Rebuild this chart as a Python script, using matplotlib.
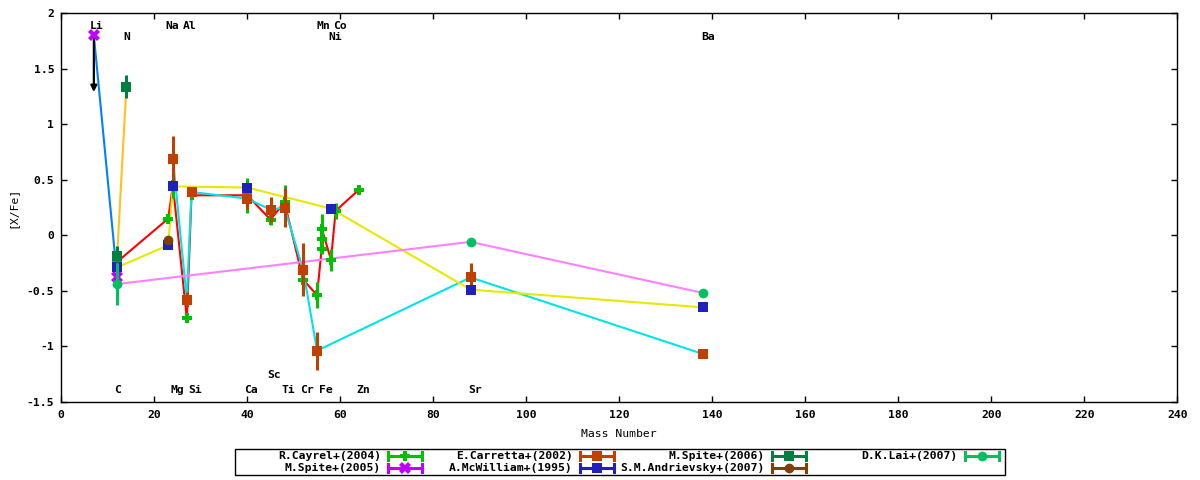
import matplotlib
matplotlib.use('Agg')
import matplotlib.pyplot as plt
from matplotlib.patches import Rectangle
from matplotlib.ticker import FuncFormatter, MultipleLocator

plt.rcParams['font.family'] = ['DejaVu Sans Mono']
plt.rcParams['font.weight'] = 'bold'
plt.rcParams['font.size'] = 8.2
plt.rcParams['axes.unicode_minus'] = False

# ---------------- data ----------------
cayrel_mass = [12, 23, 24, 27, 28, 40, 45, 48, 52, 55, 56, 56, 56, 58, 59, 64]
cayrel_val = [-0.24, 0.15, 0.45, -0.75, 0.36, 0.36, 0.14, 0.30, -0.40, -0.54,
              -0.12, -0.03, 0.06, -0.22, 0.22, 0.41]
cayrel_err = [0.05, 0.0, 0.11, 0.0, 0.03, 0.16, 0.05, 0.15, 0.13, 0.12,
              0.05, 0.12, 0.13, 0.10, 0.07, 0.0]

spite05_mass = [7, 12]
spite05_val = [1.80, -0.38]
spite05_err = [0.0, 0.0]

carretta_mass = [24, 27, 28, 40, 45, 48, 52, 55, 88, 138]
carretta_val = [0.69, -0.58, 0.39, 0.33, 0.23, 0.25, -0.31, -1.04, -0.38, -1.07]
carretta_err = [0.20, 0.07, 0.0, 0.09, 0.115, 0.18, 0.24, 0.17, 0.13, 0.0]

mcwilliam_mass = [12, 23, 24, 40, 58, 88, 138]
mcwilliam_val = [-0.29, -0.09, 0.44, 0.43, 0.24, -0.49, -0.65]
mcwilliam_err = [0.0, 0.0, 0.0, 0.0, 0.0, 0.0, 0.0]

spite06_mass = [12, 14]
spite06_val = [-0.19, 1.34]
spite06_err = [0.09, 0.10]

andrievsky_mass = [23]
andrievsky_val = [-0.04]
andrievsky_err = [0.0]

lai_mass = [12, 88, 138]
lai_val = [-0.44, -0.06, -0.52]
lai_err = [0.19, 0.0, 0.0]

# Li upper limit arrow (from value down to tip)
li_arrow_x = 7
li_arrow_from = 1.80
li_arrow_to = 1.29

top_labels = ['Li', 'N', 'Na', 'Al', 'Mn', 'Co', 'Ni', 'Ba']
top_label_x = [7.6, 14.1, 23.9, 27.7, 56.3, 60.0, 58.9, 139.2]
top_label_y = [1.887, 1.79, 1.887, 1.887, 1.887, 1.887, 1.79, 1.79]

bottom_labels = ['C', 'Mg', 'Si', 'Ca', 'Sc', 'Ti', 'Cr', 'Fe', 'Zn', 'Sr']
bottom_label_x = [12.2, 24.9, 28.75, 40.9, 45.8, 48.9, 52.9, 57.0, 64.9, 89.0]
bottom_label_y = [-1.395, -1.395, -1.395, -1.395, -1.26, -1.395, -1.395, -1.395, -1.395, -1.395]

series = [
    dict(label='R.Cayrel+(2004)', m=cayrel_mass, v=cayrel_val, e=cayrel_err,
         color='#00c000', line='#ff0000', marker='P', ms=7.5),
    dict(label='M.Spite+(2005)', m=spite05_mass, v=spite05_val, e=spite05_err,
         color='#c000ff', line='#0080ff', marker='X', ms=8),
    dict(label='E.Carretta+(2002)', m=carretta_mass, v=carretta_val, e=carretta_err,
         color='#c04000', line='#00e4e8', marker='s', ms=7.2),
    dict(label='A.McWilliam+(1995)', m=mcwilliam_mass, v=mcwilliam_val, e=mcwilliam_err,
         color='#2020c0', line='#e8e800', marker='s', ms=7.2),
    dict(label='M.Spite+(2006)', m=spite06_mass, v=spite06_val, e=spite06_err,
         color='#008040', line='#ffc020', marker='s', ms=7.2),
    dict(label='S.M.Andrievsky+(2007)', m=andrievsky_mass, v=andrievsky_val, e=andrievsky_err,
         color='#804000', line='#804000', marker='o', ms=7),
    dict(label='D.K.Lai+(2007)', m=lai_mass, v=lai_val, e=lai_err,
         color='#00c060', line='#ff80ff', marker='o', ms=7),
]

# ---------------- figure ----------------
fig = plt.figure(figsize=(12, 4.8), dpi=100)
ax = fig.add_axes([61.3 / 1200, 1 - 401.7 / 480, 1116 / 1200, 388.4 / 480])

for s in series:
    ax.plot(s['m'], s['v'], color=s['line'], lw=1.5, zorder=2)

ax.annotate('', xy=(li_arrow_x, li_arrow_to), xytext=(li_arrow_x, li_arrow_from),
            arrowprops=dict(arrowstyle='-|>', color='black', lw=1.6,
                            mutation_scale=9, shrinkA=0, shrinkB=0), zorder=3)

for i, s in enumerate(series):
    ax.errorbar(s['m'], s['v'], yerr=s['e'], fmt=s['marker'], color=s['color'],
                ms=s['ms'], mew=0, elinewidth=2.2, capsize=5.5, capthick=2.2,
                zorder=4 + i)

for t, x, y in zip(top_labels, top_label_x, top_label_y):
    ax.text(x, y, t, ha='center', va='center', zorder=20)
for t, x, y in zip(bottom_labels, bottom_label_x, bottom_label_y):
    ax.text(x, y, t, ha='center', va='center', zorder=20)

ax.set_xlim(0, 240)
ax.set_ylim(-1.5, 2)
ax.xaxis.set_major_locator(MultipleLocator(20))
ax.yaxis.set_major_locator(MultipleLocator(0.5))
ax.yaxis.set_major_formatter(FuncFormatter(lambda v, p: '%g' % v))
ax.tick_params(direction='in', length=4, width=1, top=True, right=True,
               labelsize=8.2)
ax.tick_params(axis='x', pad=6)
ax.tick_params(axis='y', pad=5)
for sp in ax.spines.values():
    sp.set_linewidth(1)

ax.set_xlabel('Mass Number')
ax.xaxis.set_label_coords(0.5, (401.7 - 434) / 388.4)
ax.xaxis.label.set_va('center')
ax.set_ylabel('[X/Fe]')
ax.yaxis.set_label_coords((12 - 61.3) / 1116, 0.5)
ax.yaxis.label.set_va('center')

# ---------------- legend (gnuplot style key) ----------------
lax = fig.add_axes([0, 0, 1, 1])
lax.set_xlim(0, 1200)
lax.set_ylim(480, 0)
lax.axis('off')
lax.add_patch(Rectangle((235, 449), 770, 26, fill=False, lw=1, ec='black'))
col_right = [381, 573, 765, 958]
row_y = [456, 468]
for i, s in enumerate(series):
    c, r = i // 2, i % 2
    xr = col_right[c]
    y = row_y[r]
    lax.text(xr, y, s['label'], ha='right', va='center')
    x0, x1 = xr + 6, xr + 42
    lax.plot([x0, x1], [y, y], color=s['color'], lw=2.2, solid_capstyle='butt')
    lax.plot([x0 + 1, x0 + 1], [y - 4, y + 4], color=s['color'], lw=2.2)
    lax.plot([x1 - 1, x1 - 1], [y - 4, y + 4], color=s['color'], lw=2.2)
    lax.plot([(x0 + x1) / 2], [y], marker=s['marker'], color=s['color'],
             ms=s['ms'], mew=0)

fig.savefig('out.png', dpi=100)
